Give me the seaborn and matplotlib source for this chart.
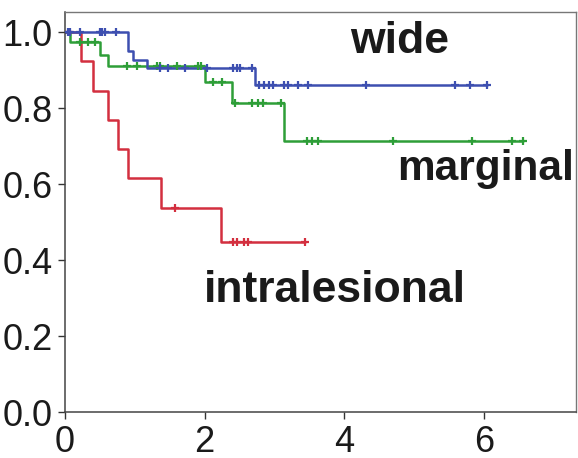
import numpy as np
import pandas as pd
import seaborn as sns
import matplotlib.pyplot as plt

# step curves (time in years, cumulative survival)
wide_t = [0, 0.9, 0.97, 1.17, 2.72, 6.05]
wide_s = [1.0, 0.95, 0.927, 0.905, 0.86, 0.86]
wide_cens = [0.04, 0.07, 0.21, 0.5, 0.53, 0.57, 0.73, 1.36, 1.48, 1.72, 2.03,
             2.41, 2.46, 2.51, 2.68, 2.78, 2.85, 2.92, 2.98, 3.13, 3.2, 3.34,
             3.48, 4.31, 5.59, 5.8, 6.05]

marg_t = [0, 0.07, 0.5, 0.62, 2.0, 2.39, 3.13, 6.56]
marg_s = [1.0, 0.974, 0.94, 0.91, 0.868, 0.813, 0.713, 0.713]
marg_cens = [0.22, 0.33, 0.43, 0.89, 1.03, 1.32, 1.36, 1.6, 1.9, 1.95, 2.12,
             2.25, 2.44, 2.68, 2.76, 2.84, 3.1, 3.47, 3.54, 3.62, 4.7, 5.83,
             6.4, 6.56]

intra_t = [0, 0.23, 0.4, 0.62, 0.76, 0.9, 1.37, 2.24, 3.44]
intra_s = [1.0, 0.923, 0.846, 0.769, 0.692, 0.615, 0.538, 0.447, 0.447]
intra_cens = [0.05, 1.58, 2.4, 2.47, 2.56, 2.62, 3.44]

groups = ['intralesional', 'marginal', 'wide']
colors = {'wide': '#3d4fb0', 'marginal': '#2e9e38', 'intralesional': '#d32f3f'}
data = {'wide': (wide_t, wide_s, wide_cens),
        'marginal': (marg_t, marg_s, marg_cens),
        'intralesional': (intra_t, intra_s, intra_cens)}

sns.set_style('ticks')
plt.rcParams['font.family'] = ['Liberation Sans Narrow', 'Liberation Sans', 'DejaVu Sans']

fig = plt.figure(figsize=(5.78, 4.58), dpi=100)
ax = fig.add_axes([0.1125, 0.1004, 0.884, 0.8734])

for g in groups:
    t, s, c = data[g]
    curve = pd.DataFrame({'time': t, 'surv': s})
    sns.lineplot(data=curve, x='time', y='surv', drawstyle='steps-post',
                 color=colors[g], linewidth=1.8, ax=ax, zorder=2)
    idx = np.searchsorted(t, c, side='right') - 1
    cens = pd.DataFrame({'time': c, 'surv': np.array(s)[idx]})
    sns.scatterplot(data=cens, x='time', y='surv', marker='+', s=36,
                    color=colors[g], linewidth=1.6, ax=ax, zorder=3)

ax.set_xlim(0, 7.32)
ax.set_ylim(0, 1.053)
ax.set_xticks([0, 2, 4, 6])
ax.set_yticks([0.0, 0.2, 0.4, 0.6, 0.8, 1.0])
ax.set_yticklabels(['0.0', '0.2', '0.4', '0.6', '0.8', '1.0'])
ax.set_xlabel('')
ax.set_ylabel('')
ax.tick_params(labelsize=26, length=5, width=1, pad=4, colors='#333333',
               labelcolor='#1a1a1a')
for side in ['left', 'bottom']:
    ax.spines[side].set_color('#444444')
    ax.spines[side].set_linewidth(1.1)
for side in ['top', 'right']:
    ax.spines[side].set_visible(True)
    ax.spines[side].set_color('#777777')
    ax.spines[side].set_linewidth(1.0)

lab = dict(fontweight='bold', color='#1a1a1a',
           family=['Liberation Sans', 'DejaVu Sans'], va='center')
ax.text(4.8, 0.975, 'wide', ha='center', fontsize=32, **lab)
ax.text(4.76, 0.64, 'marginal', ha='left', fontsize=30.5, **lab)
ax.text(3.87, 0.32, 'intralesional', ha='center', fontsize=32, **lab)

fig.savefig('out.png', dpi=100)
